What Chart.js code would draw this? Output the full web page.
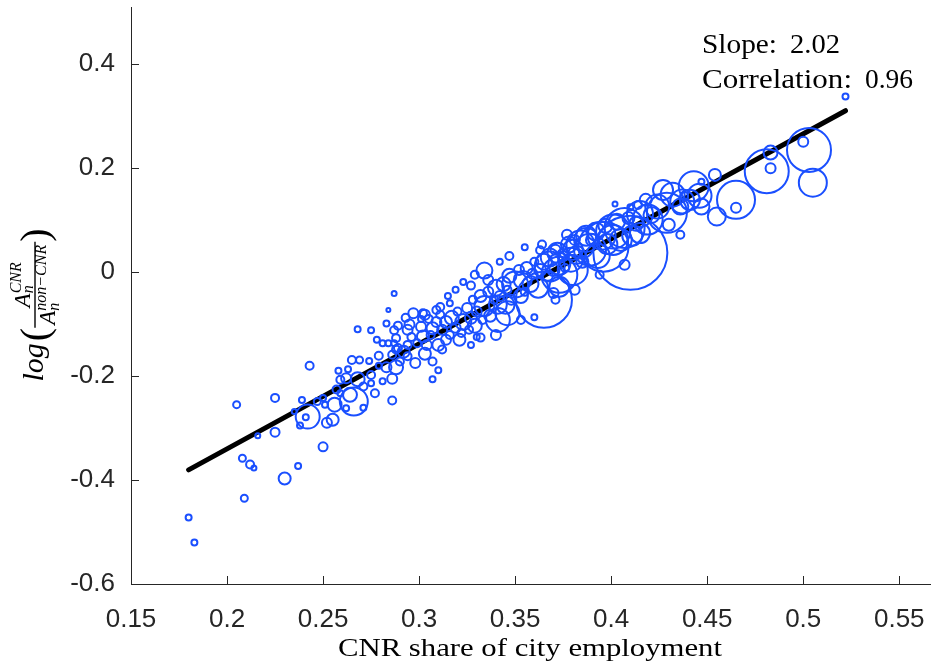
<!DOCTYPE html>
<html>
<head>
<meta charset="utf-8">
<script src="https://cdn.jsdelivr.net/npm/chart.js@4.4.1/dist/chart.umd.min.js"></script>
<style>
  html, body { margin: 0; padding: 0; background: #fff; }
  #wrap { width: 950px; height: 669px; }
</style>
</head>
<body>
<div id="wrap"><canvas id="cnrChart" width="950" height="669"></canvas></div>
<script>
// one entry per city: CNR share of employment, log productivity ratio, bubble radius (city size)
const cnrShare = [
  0.180, 0.183, 0.205, 0.225, 0.209, 0.208, 0.212, 0.214, 0.216, 0.225,
  0.230, 0.237, 0.250, 0.239, 0.242, 0.241, 0.238, 0.235, 0.256, 0.255,
  0.252, 0.266, 0.264, 0.286, 0.271, 0.247, 0.250, 0.251,
  0.287, 0.284, 0.283, 0.268, 0.275, 0.243, 0.258, 0.265, 0.269, 0.274,
  0.279, 0.279, 0.263, 0.268, 0.262, 0.259, 0.271, 0.277, 0.286, 0.281,
  0.275, 0.275, 0.283, 0.288, 0.290, 0.286, 0.289, 0.292, 0.294, 0.298,
  0.303, 0.307, 0.310, 0.307, 0.278, 0.281, 0.284, 0.287, 0.288, 0.287,
  0.289, 0.294, 0.296, 0.297, 0.302, 0.301, 0.305, 0.307, 0.309, 0.301,
  0.302, 0.299, 0.294, 0.288, 0.262, 0.257, 0.259,
  0.355, 0.364, 0.363, 0.377, 0.380, 0.373, 0.365, 0.360, 0.329, 0.334,
  0.336, 0.323, 0.316, 0.311, 0.303, 0.322, 0.330, 0.346, 0.341, 0.370,
  0.312, 0.314, 0.316, 0.317, 0.319, 0.320, 0.321, 0.323, 0.325, 0.326,
  0.327, 0.328, 0.329, 0.330, 0.332, 0.333, 0.334, 0.336, 0.337, 0.339,
  0.340, 0.341, 0.342, 0.344, 0.345, 0.346, 0.347, 0.348, 0.350, 0.352,
  0.353, 0.354, 0.355, 0.356, 0.358, 0.359, 0.360, 0.362, 0.363, 0.365,
  0.367, 0.368, 0.370, 0.371, 0.373, 0.375, 0.376, 0.378, 0.379, 0.381,
  0.382, 0.384, 0.385, 0.387, 0.389, 0.390, 0.392, 0.393, 0.395, 0.397,
  0.398, 0.401, 0.403, 0.405, 0.407, 0.409, 0.411, 0.413, 0.415,
  0.315, 0.319, 0.327, 0.342, 0.347, 0.327, 0.332, 0.340, 0.353, 0.371,
  0.381, 0.394, 0.407,
  0.293, 0.295, 0.304, 0.306, 0.310, 0.312, 0.314, 0.309, 0.311,
  0.402, 0.410, 0.414, 0.410, 0.396, 0.436, 0.447, 0.454, 0.432, 0.436,
  0.424, 0.419, 0.429, 0.415, 0.401, 0.387, 0.368, 0.372, 0.380, 0.373,
  0.522, 0.503, 0.500, 0.505, 0.481, 0.483, 0.483, 0.465, 0.465, 0.455,
  0.447, 0.443, 0.437, 0.438, 0.427, 0.441, 0.446, 0.421, 0.418, 0.430
];
const logRatio = [
  -0.472, -0.520, -0.255, -0.242, -0.435, -0.358, -0.370, -0.377, -0.315, -0.308,
  -0.397, -0.373, -0.336, -0.246, -0.278, -0.279, -0.295, -0.268, -0.255, -0.284,
  -0.290, -0.249, -0.236, -0.247, -0.261, -0.249, -0.242, -0.255,
  -0.041, -0.073, -0.099, -0.110, -0.112, -0.180, -0.190, -0.169, -0.169, -0.171,
  -0.161, -0.180, -0.187, -0.206, -0.204, -0.207, -0.220, -0.233, -0.205, -0.210,
  -0.198, -0.214, -0.183, -0.183, -0.172, -0.159, -0.146, -0.153, -0.162, -0.175,
  -0.157, -0.172, -0.189, -0.206, -0.130, -0.137, -0.137, -0.137, -0.127, -0.112,
  -0.103, -0.111, -0.125, -0.079, -0.079, -0.090, -0.090, -0.108, -0.073, -0.105,
  -0.124, -0.137, -0.140, -0.149, -0.262, -0.226, -0.233,
  0.048, 0.053, 0.042, 0.072, 0.043, -0.005, -0.053, -0.087, -0.005, 0.003,
  -0.015, -0.019, -0.060, -0.067, -0.082, -0.117, -0.125, -0.079, -0.063, -0.040,
  -0.111, -0.096, -0.121, -0.088, -0.107, -0.076, -0.130, -0.096, -0.069, -0.111,
  -0.088, -0.053, -0.103, -0.076, -0.046, -0.092, -0.065, -0.038, -0.084, -0.053,
  -0.030, -0.092, -0.046, -0.023, -0.063, -0.034, -0.007, -0.053, -0.024, 0.004,
  -0.046, -0.015, -0.038, 0.008, -0.023, -0.003, 0.020, -0.030, 0.004, 0.020,
  -0.007, 0.028, 0.004, 0.043, 0.016, 0.033, 0.008, 0.053, 0.024, 0.062,
  0.033, 0.053, 0.020, 0.070, 0.043, 0.062, 0.078, 0.031, 0.070, 0.089,
  0.054, 0.078, 0.097, 0.062, 0.085, 0.104, 0.070, 0.093, 0.112,
  -0.046, -0.034, -0.026, 0.020, 0.031, -0.140, -0.126, -0.121, -0.092, -0.053,
  -0.034, -0.005, 0.014,
  -0.088, -0.101, -0.140, -0.121, -0.140, -0.149, -0.130, -0.096, -0.082,
  0.131, 0.125, 0.129, 0.037, 0.049, 0.072, 0.174, 0.187, 0.149, 0.126,
  0.126, 0.101, 0.114, 0.075, 0.062, 0.062, 0.011, 0.037, 0.004, -0.028,
  0.338, 0.235, 0.251, 0.172, 0.194, 0.230, 0.200, 0.139, 0.124, 0.107,
  0.126, 0.165, 0.136, 0.147, 0.158, 0.139, 0.147, 0.110, 0.139, 0.091
];
const citySize = [
  3, 3, 3.5, 4, 3.5, 3.5, 4, 2.5, 2.5, 4.5,
  6, 3, 4.5, 3, 12, 3, 3, 2.5, 7, 6,
  5, 14, 7, 4, 3, 3.5, 3, 3,
  2.5, 2, 3, 3, 3, 4, 3, 4, 3.5, 3,
  4, 3, 3, 7, 5, 4, 4, 4, 5, 3,
  4, 3, 5, 7, 4, 4, 4, 6, 4, 5,
  6, 4, 3, 3, 3, 3, 3, 3, 4, 4,
  4, 5, 4, 5, 4, 3, 4, 6, 4, 5,
  6, 4, 4, 4, 3, 4, 3,
  3, 4, 4, 5, 10, 18, 28, 3, 4, 8,
  5, 3, 3, 4, 5, 4, 3, 12, 9, 5,
  5, 6, 4, 7, 5, 4, 6, 8, 5, 4,
  6, 4, 7, 5, 6, 4, 10, 5, 6, 4,
  8, 12, 5, 7, 9, 4, 7, 5, 13, 5,
  7, 9, 4, 6, 8, 5, 4, 10, 6, 8,
  5, 9, 6, 5, 11, 6, 4, 8, 12, 5,
  9, 14, 6, 10, 16, 6, 9, 12, 14, 7,
  10, 17, 8, 11, 20, 6, 10, 7, 13,
  3, 3, 4, 3, 4, 3, 4, 5, 4, 4,
  5, 4, 5,
  4, 5, 5, 4, 6, 4, 5, 5, 4,
  2.5, 3, 4, 37, 25, 4, 3, 6, 12, 8,
  12, 15, 20, 10, 15, 12, 15, 10, 15, 10,
  3, 22, 5, 14, 22, 7, 5, 19, 5, 9,
  8, 15, 12, 4, 10, 10, 12, 8, 6, 6
];

const fitSlope = 2.02;
const fitIntercept = -0.744;
const fitCorrelation = 0.96;

const xTicks = [0.15, 0.2, 0.25, 0.3, 0.35, 0.4, 0.45, 0.5, 0.55];
const yTicks = [-0.6, -0.4, -0.2, 0, 0.2, 0.4];

const xTitle = 'CNR share of city employment';

const BLUE = '#1a4fff';
const AXIS = '#262626';
const SERIF = '"Liberation Serif", "Times New Roman", serif';
const SANS = '"Liberation Sans", Arial, Helvetica, sans-serif';

const bubbles = cnrShare.map((x, i) => ({ x: x, y: logRatio[i], r: citySize[i] }));

// fitted line across the observed range of shares
const xLo = Math.min(...cnrShare);
const xHi = Math.max(...cnrShare);
const fitLine = [
  { x: xLo, y: fitIntercept + fitSlope * xLo },
  { x: xHi, y: fitIntercept + fitSlope * xHi }
];

function tickText(v) {
  return String(Math.round(v * 100) / 100);
}

// draw text squeezed/stretched into a given width
function fitText(ctx, str, x, y, width, font) {
  ctx.font = font;
  const w = ctx.measureText(str).width;
  ctx.save();
  ctx.translate(x, y);
  ctx.scale(width / w, 1);
  ctx.fillText(str, 0, 0);
  ctx.restore();
}

function drawYTitle(ctx) {
  ctx.save();
  ctx.translate(43, 305);
  ctx.rotate(-Math.PI / 2);
  ctx.fillStyle = '#000';
  ctx.strokeStyle = '#000';
  ctx.textBaseline = 'alphabetic';
  ctx.textAlign = 'left';
  const fLog = 'italic 30px ' + SERIF;
  const fParen = '40px ' + SERIF;
  const fA = 'italic 23px ' + SERIF;
  const fScr = 'italic 16px ' + SERIF;
  const w = (f, s) => { ctx.font = f; return ctx.measureText(s).width; };
  const wLog = w(fLog, 'log');
  const wOpen = w(fParen, '(');
  const wA = w(fA, 'A');
  const numW = wA + Math.max(w(fScr, 'CNR'), w(fScr, 'n'));
  const denW = wA + Math.max(w(fScr, 'non\u2212CNR'), w(fScr, 'n'));
  const fracW = Math.max(numW, denW) + 6;
  const total = wLog + 2 + wOpen + fracW + wOpen;
  let u = -total / 2;
  ctx.font = fLog;
  ctx.fillText('log', u, 0);
  u += wLog + 2;
  ctx.font = fParen;
  ctx.fillText('(', u, 5);
  u += wOpen;
  ctx.lineWidth = 1.4;
  ctx.beginPath();
  ctx.moveTo(u, -8);
  ctx.lineTo(u + fracW, -8);
  ctx.stroke();
  // numerator A_n^CNR
  const nx = u + (fracW - numW) / 2;
  ctx.font = fA;
  ctx.fillText('A', nx, -13);
  ctx.font = fScr;
  ctx.fillText('CNR', nx + wA, -22);
  ctx.fillText('n', nx + wA, -10.5);
  // denominator A_n^{non-CNR}
  const dx = u + (fracW - denW) / 2;
  ctx.font = fA;
  ctx.fillText('A', dx, 12);
  ctx.font = fScr;
  ctx.fillText('non\u2212CNR', dx + wA, 3);
  ctx.fillText('n', dx + wA, 16);
  u += fracW;
  ctx.font = fParen;
  ctx.fillText(')', u, 5);
  ctx.restore();
}

const axisDecor = {
  id: 'axisDecor',
  afterDraw(chart) {
    const { ctx, chartArea: a, scales: { x, y } } = chart;
    ctx.save();
    // MATLAB-style inward ticks
    ctx.strokeStyle = AXIS;
    ctx.lineWidth = 1;
    ctx.beginPath();
    xTicks.forEach(v => {
      const px = Math.round(x.getPixelForValue(v)) + 0.5;
      ctx.moveTo(px, a.bottom);
      ctx.lineTo(px, a.bottom - 8);
    });
    yTicks.forEach(v => {
      const py = Math.round(y.getPixelForValue(v)) + 0.5;
      ctx.moveTo(a.left, py);
      ctx.lineTo(a.left + 8, py);
    });
    ctx.stroke();

    ctx.fillStyle = '#000';
    ctx.textBaseline = 'alphabetic';
    ctx.textAlign = 'left';
    const f = '28px ' + SERIF;
    fitText(ctx, 'Slope:', 702, 53, 75, f);
    fitText(ctx, fitSlope.toFixed(2), 790, 53, 50, f);
    fitText(ctx, 'Correlation:', 702, 88, 150, f);
    fitText(ctx, fitCorrelation.toFixed(2), 865, 88, 48, f);

    fitText(ctx, xTitle, 338, 656, 384, '25px ' + SERIF);
    drawYTitle(ctx);
    ctx.restore();
  }
};

new Chart(document.getElementById('cnrChart'), {
  type: 'bubble',
  data: {
    datasets: [
      {
        type: 'line',
        data: fitLine,
        borderColor: '#000',
        borderWidth: 5,
        pointRadius: 0,
        borderCapStyle: 'round',
        order: 2
      },
      {
        type: 'bubble',
        data: bubbles,
        backgroundColor: 'rgba(0,0,0,0)',
        borderColor: BLUE,
        borderWidth: 2,
        clip: false,
        order: 1
      }
    ]
  },
  options: {
    responsive: false,
    animation: false,
    events: [],
    layout: { autoPadding: false, padding: { top: 7, right: 20, left: 0, bottom: 0 } },
    plugins: { legend: { display: false }, tooltip: { enabled: false } },
    scales: {
      x: {
        type: 'linear',
        min: 0.15,
        max: 0.566,
        grid: { display: false },
        border: { display: true, color: AXIS, width: 1 },
        ticks: { color: AXIS, padding: 12, font: { family: SANS, size: 26 }, callback: tickText, maxRotation: 0 },
        afterBuildTicks: s => { s.ticks = xTicks.map(v => ({ value: v })); },
        afterFit: s => { s.height = 85; s.paddingLeft = 0; s.paddingRight = 0; }
      },
      y: {
        type: 'linear',
        min: -0.6,
        max: 0.51,
        grid: { display: false },
        border: { display: true, color: AXIS, width: 1 },
        ticks: { color: AXIS, padding: 8, font: { family: SANS, size: 26 }, callback: tickText },
        afterBuildTicks: s => { s.ticks = yTicks.map(v => ({ value: v })); },
        afterFit: s => { s.width = 131; s.paddingTop = 0; s.paddingBottom = 0; }
      }
    }
  },
  plugins: [axisDecor]
});
</script>
</body>
</html>
